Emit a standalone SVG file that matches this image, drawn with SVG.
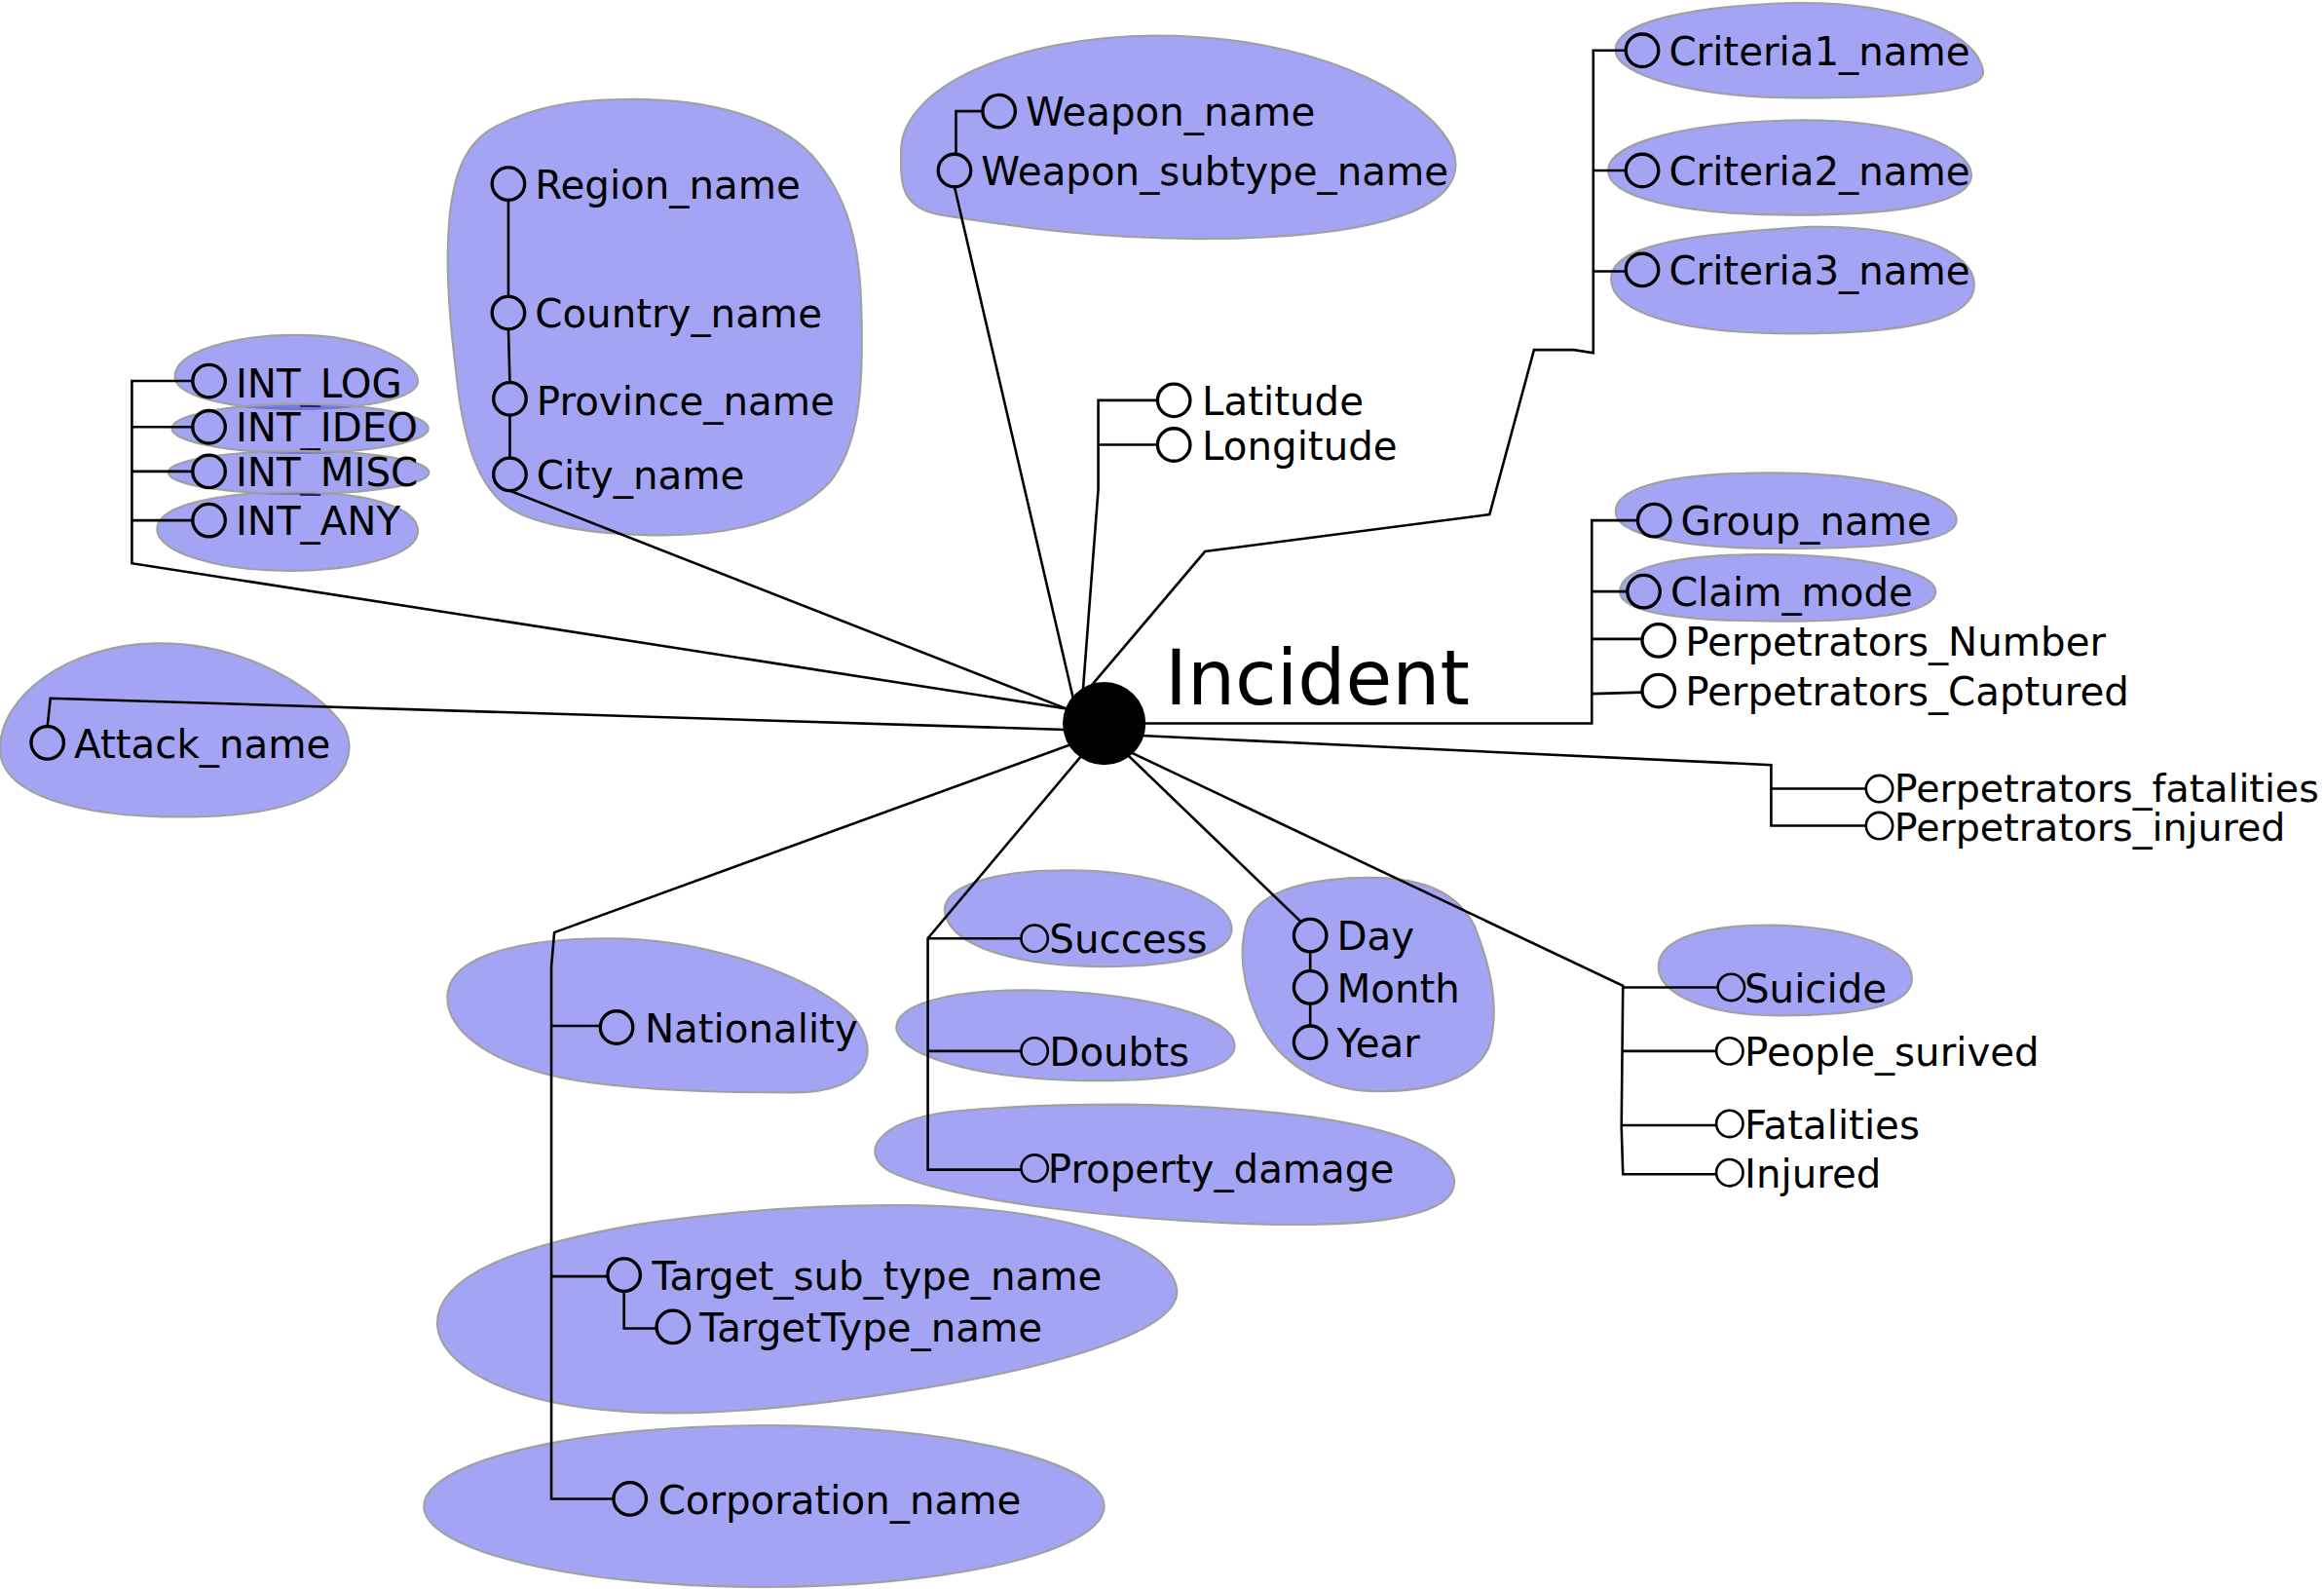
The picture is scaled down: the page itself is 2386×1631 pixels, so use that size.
<svg xmlns="http://www.w3.org/2000/svg" width="2386" height="1631" viewBox="0 0 2386 1631">
<style>
.blob{fill:rgb(72,76,234);fill-opacity:.5;stroke:#a0a0a0;stroke-width:1.4}
.c{fill:none;stroke:#000;stroke-width:2.2}
.cs{fill:none;stroke:#000;stroke-width:1.7}
.ln{fill:none;stroke:#000;stroke-width:1.7}
text{font-family:"DejaVu Sans","Liberation Sans",sans-serif;font-size:26.5px;fill:#000}
</style>
<rect width="2386" height="1631" fill="#fff"/>
<g transform="scale(1.52168)">
<g id="nodes">
<g id="n-int-log"><path class="blob" d="M200,226 C250,226 282,245 282,257 C282,270 240,276 200,276 C150,276 118,266 118,254 C118,238 155,226 200,226 Z"/><circle class="c" cx="141" cy="257" r="11"/><text x="159" y="268">INT_LOG</text></g>
<g id="n-int-ideo"><ellipse class="blob" cx="202.5" cy="289" rx="86.5" ry="16.5"/><circle class="c" cx="141" cy="288" r="11"/><text x="159" y="298">INT_IDEO</text></g>
<g id="n-int-misc"><ellipse class="blob" cx="201.5" cy="318.7" rx="88" ry="14.5"/><circle class="c" cx="141" cy="318" r="11"/><text x="159" y="328">INT_MISC</text></g>
<g id="n-int-any"><path class="blob" d="M200,332 C250,332 282,343 282,358 C282,375 240,385 195,385 C145,385 106,372 106,357 C106,340 150,332 200,332 Z"/><circle class="c" cx="141" cy="351" r="11"/><text x="159" y="361">INT_ANY</text></g>
<g id="n-attack"><path class="blob" d="M105,434 C165,433 215,465 232,490 C245,515 225,550 130,551 C50,552 0,535 0,505 C0,470 45,435 105,434 Z"/><circle class="c" cx="32" cy="501" r="11"/><text x="50" y="511">Attack_name</text></g>
<g id="n-region"><path class="blob" d="M420,67 C480,66 525,80 548,105 C572,132 580,165 581,205 C583,260 580,300 560,325 C535,352 490,362 440,361 C390,360 355,352 340,340 C322,325 315,300 310,270 C305,230 300,190 303,150 C306,115 315,95 335,85 C360,72 390,67 420,67 Z"/>
<circle class="c" cx="343" cy="124" r="11"/><text x="361" y="134">Region_name</text>
<circle class="c" cx="343" cy="211" r="11"/><text x="361" y="221">Country_name</text>
<circle class="c" cx="344" cy="269" r="11"/><text x="362" y="280">Province_name</text>
<circle class="c" cx="344" cy="320" r="11"/><text x="362" y="330">City_name</text></g>
<g id="n-weapon"><path class="blob" d="M780,24 C880,24 960,60 980,100 C995,140 930,160 820,161 C740,162 680,152 635,145 C605,140 608,120 608,100 C610,60 680,25 780,24 Z"/>
<circle class="c" cx="674" cy="75" r="11"/><text x="692" y="85">Weapon_name</text>
<circle class="c" cx="644" cy="115" r="11"/><text x="662" y="125">Weapon_subtype_name</text></g>
<g id="n-latlon"><circle class="c" cx="792" cy="270" r="11"/><text x="811" y="280">Latitude</text>
<circle class="c" cx="792" cy="300" r="11"/><text x="811" y="310">Longitude</text></g>
<g id="n-criteria1"><path class="blob" d="M1210,2 C1290,1 1335,25 1338,48 C1340,62 1290,66 1215,66 C1140,66 1092,50 1090,35 C1088,15 1140,4 1210,2 Z"/><circle class="c" cx="1108" cy="34" r="11"/><text x="1126" y="44">Criteria1_name</text></g>
<g id="n-criteria2"><path class="blob" d="M1215,81 C1290,81 1328,100 1330,117 C1332,135 1290,145 1210,145 C1130,145 1085,132 1085,115 C1085,96 1140,82 1215,81 Z"/><circle class="c" cx="1108" cy="115" r="11"/><text x="1126" y="125">Criteria2_name</text></g>
<g id="n-criteria3"><path class="blob" d="M1220,153 C1290,152 1332,170 1332,192 C1332,215 1290,225 1210,225 C1130,225 1087,210 1087,188 C1087,165 1140,158 1220,153 Z"/><circle class="c" cx="1108" cy="182" r="11"/><text x="1126" y="192">Criteria3_name</text></g>
<g id="n-group"><path class="blob" d="M1195,319 C1260,319 1318,332 1320,350 C1322,366 1270,370 1200,370 C1130,370 1090,360 1090,345 C1090,328 1130,319 1195,319 Z"/><circle class="c" cx="1116" cy="351" r="11"/><text x="1134" y="361">Group_name</text></g>
<g id="n-claim"><path class="blob" d="M1190,374 C1260,374 1306,386 1306,399 C1306,414 1260,419 1200,419 C1140,419 1093,414 1093,399 C1093,383 1130,374 1190,374 Z"/><circle class="c" cx="1109" cy="399" r="11"/><text x="1127" y="409">Claim_mode</text></g>
<g id="n-perp-number"><circle class="c" cx="1119" cy="432" r="11"/><text x="1137" y="442">Perpetrators_Number</text></g>
<g id="n-perp-captured"><circle class="c" cx="1119" cy="466" r="11"/><text x="1137" y="476">Perpetrators_Captured</text></g>
<g id="n-perp-fat"><circle class="cs" cx="1268" cy="532" r="9"/><text x="1278" y="541" style="font-size:26px">Perpetrators_fatalities</text></g>
<g id="n-perp-inj"><circle class="cs" cx="1268" cy="557" r="9"/><text x="1278" y="567" style="font-size:26px">Perpetrators_injured</text></g>
<g id="n-suicide"><path class="blob" d="M1195,624 C1250,625 1290,640 1290,660 C1290,680 1250,685 1200,685 C1150,685 1119,670 1119,652 C1119,633 1150,624 1195,624 Z"/><circle class="cs" cx="1168" cy="666" r="9"/><text x="1177" y="676">Suicide</text></g>
<g id="n-people"><circle class="cs" cx="1167" cy="709" r="9"/><text x="1177" y="719">People_surived</text></g>
<g id="n-fatalities"><circle class="cs" cx="1167" cy="758" r="9"/><text x="1177" y="768">Fatalities</text></g>
<g id="n-injured"><circle class="cs" cx="1167" cy="791" r="9"/><text x="1177" y="801">Injured</text></g>
<g id="n-date"><path class="blob" d="M925,592 C965,592 985,605 995,625 C1005,650 1012,680 1005,705 C995,730 960,737 925,736 C890,735 862,715 850,690 C838,665 835,640 842,620 C852,600 885,592 925,592 Z"/>
<circle class="c" cx="884" cy="631" r="11"/><text x="902" y="641">Day</text>
<circle class="c" cx="884" cy="666" r="11"/><text x="902" y="676">Month</text>
<circle class="c" cx="884" cy="703" r="11"/><text x="902" y="713">Year</text></g>
<g id="n-success"><path class="blob" d="M720,587 C780,587 828,605 831,625 C833,645 790,652 745,652 C690,652 645,640 638,618 C632,598 670,587 720,587 Z"/><circle class="cs" cx="698" cy="633" r="9"/><text x="708" y="643">Success</text></g>
<g id="n-doubts"><path class="blob" d="M700,668 C770,670 832,685 833,705 C834,722 790,729 740,729 C670,729 610,715 605,695 C602,678 640,667 700,668 Z"/><circle class="cs" cx="698" cy="709" r="9"/><text x="708" y="719">Doubts</text></g>
<g id="n-property"><path class="blob" d="M760,745 C870,747 975,760 981,795 C985,820 930,827 860,826 C760,824 640,810 600,790 C580,778 590,757 640,750 C680,746 720,745 760,745 Z"/><circle class="cs" cx="698" cy="788" r="9"/><text x="707" y="798">Property_damage</text></g>
<g id="n-nationality"><path class="blob" d="M410,633 C480,633 550,660 575,685 C595,708 588,737 535,737 C480,737 400,735 360,722 C320,710 300,690 302,670 C305,645 350,633 410,633 Z"/><circle class="c" cx="416" cy="693" r="11"/><text x="435" y="703">Nationality</text></g>
<g id="n-target"><path class="blob" d="M601,813 C700,812 790,835 794,870 C797,900 700,925 600,940 C520,952 460,955 420,952 C340,947 296,920 295,893 C295,860 350,840 430,826 C490,817 550,813 601,813 Z"/>
<circle class="c" cx="421" cy="860" r="11"/><text x="440" y="870">Target_sub_type_name</text>
<circle class="c" cx="454" cy="895" r="11"/><text x="472" y="905">TargetType_name</text></g>
<g id="n-corporation"><ellipse class="blob" cx="515.5" cy="1016" rx="229.5" ry="54.5"/><circle class="c" cx="425" cy="1011" r="11"/><text x="444" y="1021">Corporation_name</text></g>
</g>
<g id="connectors" class="ln">
<path d="M130,257 L89,257 L89,380 L745,482 M89,288 L130,288 M89,318 L130,318 M89,351 L130,351"/>
<path d="M32,490 L34,471 L745,493"/>
<path d="M343,135 L343,200 M343,222 L344,258 M344,280 L344,309 M344,331 L745,488"/>
<path d="M663,75 L645,75 L645,104 M644,126 L728,488"/>
<path d="M781,270 L741,270 L741,330 L729,488 M741,300 L781,300"/>
<path d="M730,470 L813,372 L1005,347 L1035,236 L1062,236 L1075,238 L1075,34 L1097,34 M1075,115 L1097,115 M1075,183 L1097,183"/>
<path d="M745,488 L1074,488 L1074,351 L1105,351 M1074,399 L1098,399 M1074,431 L1108,431 M1074,468 L1108,467"/>
<path d="M745,495 L1195,516 L1195,557 L1259,557 M1195,532 L1259,532"/>
<path d="M745,499 L1095,665 L1094,760 L1095,792 L1158,792 M1095,666 L1159,666 M1095,709 L1158,709 M1094,759 L1158,759"/>
<path d="M745,494 L878,622 M884,642 L884,655 M884,677 L884,692"/>
<path d="M748,488 L626,633 L626,789 L689,789 M626,633 L689,633 M626,709 L689,709"/>
<path d="M745,494 L374,629 L372,652 L372,1011 L414,1011 M372,692 L405,692 M372,861 L410,861 M421,871 L421,896 L443,896"/>
</g>
<g id="n-incident"><circle cx="745" cy="488" r="28" fill="#000"/><text x="786" y="475" style="font-size:51px">Incident</text></g>
</g>
</svg>
